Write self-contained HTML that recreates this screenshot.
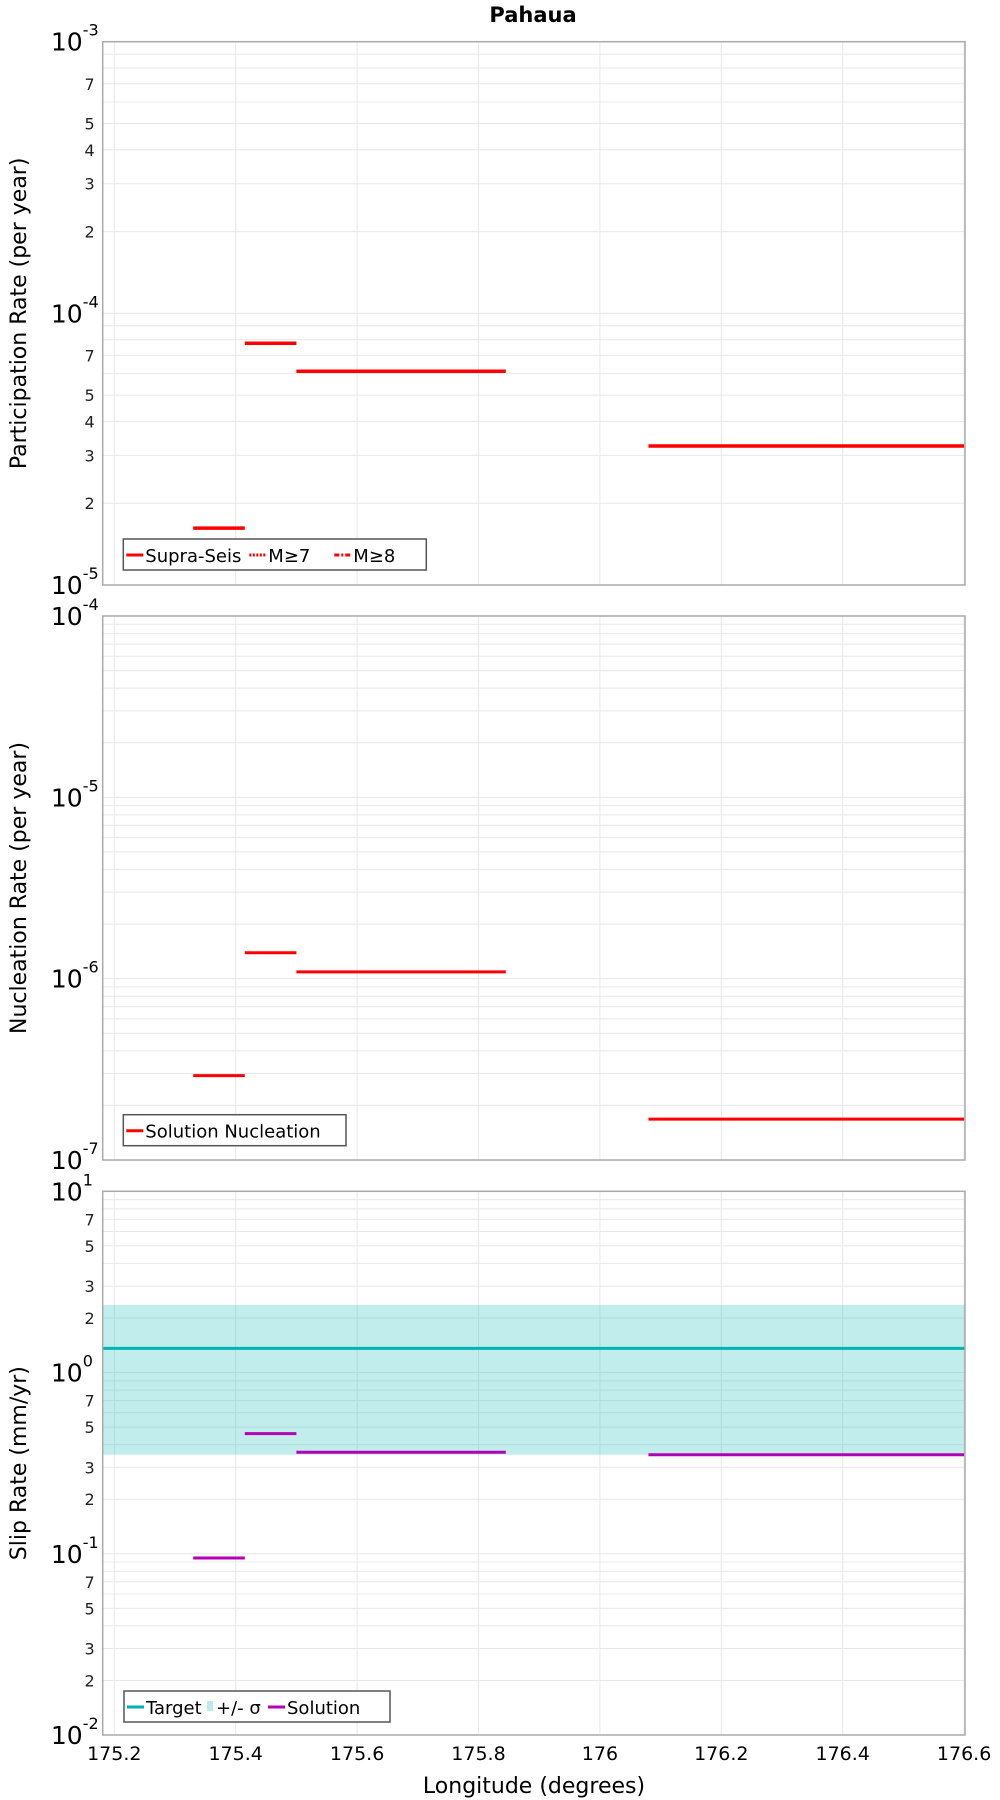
<!DOCTYPE html>
<html><head><meta charset="utf-8"><style>
html,body{margin:0;padding:0;background:#fff;}
svg{display:block;font-family:"DejaVu Sans","Liberation Sans",sans-serif;}
</style></head><body>
<svg id="c" width="1000" height="1800" xmlns="http://www.w3.org/2000/svg">
<text x="533" y="22" text-anchor="middle" font-weight="bold" font-size="21">Pahaua</text>
</svg>
<script>
const xTicks=[175.2,175.4,175.6,175.8,176,176.2,176.4,176.6];
const xTickLabels=["175.2","175.4","175.6","175.8","176","176.2","176.4","176.6"];
const segStart=[175.33,175.415,175.5,176.08];
const segEnd=[175.415,175.5,175.845,176.6];
const partRates=[1.62e-5,7.76e-5,6.12e-5,3.25e-5];
const nuclRates=[2.92e-7,1.39e-6,1.09e-6,1.68e-7];
const slipSolution=[0.0947,0.46,0.363,0.352];
const slipTarget=1.36;
const slipSigmaLow=0.352;
const slipSigmaHigh=2.36;

const NS="http://www.w3.org/2000/svg";
const svg=document.getElementById('c');
const L=102.7,R=965;
function X(v){return 114.3+(v-175.2)*607;}
function mk(tag,attrs,parent){const e=document.createElementNS(NS,tag);for(const k in attrs)e.setAttribute(k,attrs[k]);(parent||svg).appendChild(e);return e;}

function panel(name,top,bot,lo,hi,minorLabels,yTitle){
  const g=mk('g',{});
  
  
  const Y=v=>bot-(Math.log10(v)-lo)/(hi-lo)*(bot-top);
  for(let d=lo;d<hi;d++){
    for(let m=2;m<=9;m++){
      const y=Y(m*Math.pow(10,d));
      const ln=mk('line',{x1:L,x2:R,y1:y,y2:y,stroke:'#e8e8e8','stroke-width':1},g);
      
      
      if(minorLabels.includes(m)){
        const t=mk('text',{x:L-8,y:y+6,'text-anchor':'end','font-size':16,fill:'#222'},g);
        
        
        t.textContent=m;
      }
    }
  }
  for(let d=lo;d<=hi;d++){
    const y=Y(Math.pow(10,d));
    const ln=mk('line',{x1:L,x2:R,y1:y,y2:y,stroke:'#e8e8e8','stroke-width':1},g);
    
    
    const t=mk('text',{x:L-20,y:y+9,'text-anchor':'end','font-size':25,fill:'#000'},g);
    
    
    t.textContent='10';
    const s=mk('text',{x:L-20,y:y-6,'text-anchor':'start','font-size':16,fill:'#000'},g);
    
    
    s.textContent=String(d);
  }
  xTicks.forEach(v=>{
    const ln=mk('line',{x1:X(v),x2:X(v),y1:top,y2:bot,stroke:'#e8e8e8','stroke-width':1},g);
    
    
  });
  const t=mk('text',{transform:`translate(26,${(top+bot)/2}) rotate(-90)`,'text-anchor':'middle','font-size':22,fill:'#000'},g);
  
  
  t.textContent=yTitle;
  return {g,Y,top,bot};
}
function frame(p){
  const r=mk('rect',{x:L,y:p.top,width:R-L,height:p.bot-p.top,fill:'none',stroke:'#aaa','stroke-width':1.5},p.g);
  
  
}
function segs(p,vals,color,name,w){
  vals.forEach((v,i)=>{
    const ln=mk('line',{x1:X(segStart[i]),x2:X(segEnd[i]),y1:p.Y(v),y2:p.Y(v),stroke:color,'stroke-width':w||3},p.g);
    
    
  });
}
function legend(p,x,y,w,items){
  const g=mk('g',{},p.g);
  
  
  const r=mk('rect',{x:x,y:y,width:w,height:31,fill:'#fff',stroke:'#555','stroke-width':1.5},g);
  
  
  let cx=x+3;
  items.forEach(it=>{
    if(it.box){mk('rect',{x:cx,y:y+10,width:6,height:10,fill:it.color},g);cx+=9;}
    else{
      const ln=mk('line',{x1:cx,x2:cx+17,y1:y+16,y2:y+16,stroke:it.color,'stroke-width':3,'stroke-dasharray':it.dash||'none'},g);
      
      
      cx+=19;
    }
    const t=mk('text',{x:cx,y:y+23,'font-size':18,fill:'#000'},g);
    
    
    t.textContent=it.label;
    cx+=it.w;
  });
}

// Panel 1
const p1=panel('participation-panel',41.7,585,-5,-3,[2,3,4,5,7],'Participation Rate (per year)');
segs(p1,partRates,'#ff0000','participation-segment',3.5);
frame(p1);
legend(p1,123.3,539,303,[{label:'Supra-Seis',color:'#f00',w:104},{label:'M≥7',color:'#f00',dash:'2,1.5',w:66},{label:'M≥8',color:'#f00',dash:'5,2,2,2',w:50}]);

// Panel 2
const p2=panel('nucleation-panel',616,1160,-7,-4,[],'Nucleation Rate (per year)');
segs(p2,nuclRates,'#ff0000','nucleation-segment',3);
frame(p2);
legend(p2,123.3,1114.7,222.7,[{label:'Solution Nucleation',color:'#f00',w:200}]);

// Panel 3
const p3=panel('slip-rate-panel',1191.3,1735,-2,1,[2,3,5,7],'Slip Rate (mm/yr)');
const band=mk('rect',{x:L,y:p3.Y(slipSigmaHigh),width:R-L,height:p3.Y(slipSigmaLow)-p3.Y(slipSigmaHigh),fill:'rgba(0,180,180,0.24)'},p3.g);


const tl=mk('line',{x1:L,x2:R,y1:p3.Y(slipTarget),y2:p3.Y(slipTarget),stroke:'#00b3b3','stroke-width':3},p3.g);


segs(p3,slipSolution,'#b400b4','solution-segment',3);
frame(p3);
legend(p3,124,1691,266,[{label:'Target',color:'#00b3b3',w:61},{box:true,label:'+/- σ',color:'#bfeaea',w:52},{label:'Solution',color:'#b400b4',w:80}]);

// X axis
xTicks.forEach((v,i)=>{
  const t=mk('text',{x:X(v),y:1760,'text-anchor':'middle','font-size':19,fill:'#000'});
  
  
  t.textContent=xTickLabels[i];
});
const xt=mk('text',{x:534,y:1793,'text-anchor':'middle','font-size':22,fill:'#000'});


xt.textContent='Longitude (degrees)';
</script>
</body></html>
